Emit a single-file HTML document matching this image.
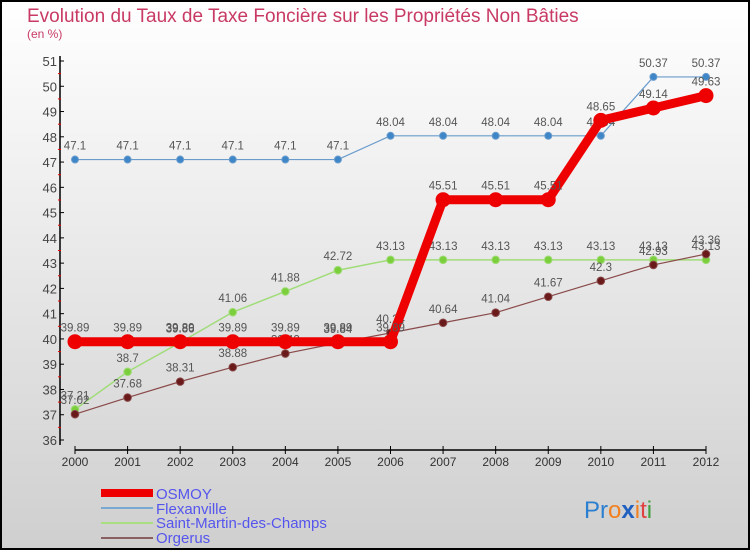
<!DOCTYPE html>
<html><head><meta charset="utf-8"><style>
body{margin:0;width:750px;height:550px;overflow:hidden}
svg{display:block;font-family:"Liberation Sans",sans-serif}
</style></head><body>
<svg id="c" width="750" height="550">
<defs><linearGradient id="bg" x1="0" y1="0" x2="0" y2="1"><stop offset="0" stop-color="#ffffff"/><stop offset="1" stop-color="#cfcfcf"/></linearGradient></defs>
<rect x="1" y="1" width="748" height="548" fill="url(#bg)" stroke="#000" stroke-width="2"/>
<text x="27" y="22" font-size="19" fill="#c83a64">Evolution du Taux de Taxe Foncière sur les Propriétés Non Bâties</text>
<text x="27" y="38" font-size="12" fill="#c83a64">(en %)</text>
<g id="axes"></g><g id="series"></g>
<g>
<rect x="101" y="489" width="52" height="8" fill="#e00"/>
<text x="156" y="499" font-size="15" fill="#5555ee">OSMOY</text>
<rect x="101" y="507" width="52" height="2" fill="#7aa8d0"/>
<text x="156" y="514" font-size="15" fill="#5555ee">Flexanville</text>
<rect x="101" y="522" width="52" height="2" fill="#a8e080"/>
<text x="156" y="528" font-size="15" fill="#5555ee">Saint-Martin-des-Champs</text>
<rect x="101" y="537" width="52" height="2" fill="#8a6060"/>
<text x="156" y="543" font-size="15" fill="#5555ee">Orgerus</text>
</g>
<text x="584" y="518" font-size="24"><tspan fill="#2a7fd0">Pr</tspan><tspan fill="#f08020">o</tspan><tspan fill="#2060c0" font-weight="bold">x</tspan><tspan fill="#f08020">i</tspan><tspan fill="#e04040">t</tspan><tspan fill="#40a040">i</tspan></text>
</svg>
<script>
const years=[2000,2001,2002,2003,2004,2005,2006,2007,2008,2009,2010,2011,2012];
const osmoy=[39.89,39.89,39.89,39.89,39.89,39.89,39.89,45.51,45.51,45.51,48.65,49.14,49.63];
const flexanville=[47.1,47.1,47.1,47.1,47.1,47.1,48.04,48.04,48.04,48.04,48.04,50.37,50.37];
const saintMartin=[37.21,38.7,39.86,41.06,41.88,42.72,43.13,43.13,43.13,43.13,43.13,43.13,43.13];
const orgerus=[37.02,37.68,38.31,38.88,39.42,39.84,40.24,40.64,41.04,41.67,42.3,42.93,43.36];
const yTicks=[36,37,38,39,40,41,42,43,44,45,46,47,48,49,50,51];
const NS='http://www.w3.org/2000/svg';
const X=i=>75+i*(706-75)/(years.length-1);
const Y=v=>440-(v-36)*(440-61)/15;
function mk(tag,at,parent){const e=document.createElementNS(NS,tag);for(const k in at)e.setAttribute(k,at[k]);parent.appendChild(e);return e;}
const ax=document.getElementById('axes');
let yl=mk('line',{x1:60,y1:56,x2:60,y2:445,stroke:'#000','stroke-width':1.5},ax);


yTicks.forEach(v=>{
  mk('line',{x1:60,x2:64,y1:Y(v),y2:Y(v),stroke:'#000'},ax);
  if(v<51) mk('line',{x1:58,x2:61,y1:Y(v+0.5),y2:Y(v+0.5),stroke:'#e00'},ax);
  const t=mk('text',{x:57,y:Y(v)+5,'font-size':13,fill:'#444','text-anchor':'end'},ax);
  t.textContent=v;
  
  
});
let xl=mk('line',{x1:75,y1:450,x2:706,y2:450,stroke:'#000','stroke-width':1.5},ax);


years.forEach((yr,i)=>{
  mk('line',{x1:X(i),x2:X(i),y1:446,y2:454,stroke:'#000'},ax);
  const t=mk('text',{x:X(i),y:466,'font-size':12,fill:'#333','text-anchor':'middle'},ax);
  t.textContent=yr;
  
  
});
const sg=document.getElementById('series');
function series(name,data,color,w,r,dot){
  const g=mk('g',{},sg);
  
  
  mk('polyline',{points:data.map((v,i)=>X(i)+','+Y(v)).join(' '),fill:'none',stroke:color,'stroke-width':w,'stroke-linejoin':'round'},g);
  data.forEach((v,i)=>{
    const c=mk('circle',{cx:X(i),cy:Y(v),r:r,fill:dot,stroke:color,'stroke-width':1},g);
    
    
    const t=mk('text',{x:X(i),y:Y(v)-10,'font-size':11.5,fill:'#555','text-anchor':'middle'},g);
    t.textContent=v;
    
    
  });
}
series('flexanville',flexanville,'#6a9ccc',1.2,3.5,'#3f86c8');
series('saint-martin',saintMartin,'#a0dc78',1.5,3.8,'#7ccf3c');
series('orgerus',orgerus,'#8a4a4a',1.2,3.8,'#6a1a1a');
series('osmoy',osmoy,'#ee0000',9,7,'#ee0000');
</script>
</body></html>
